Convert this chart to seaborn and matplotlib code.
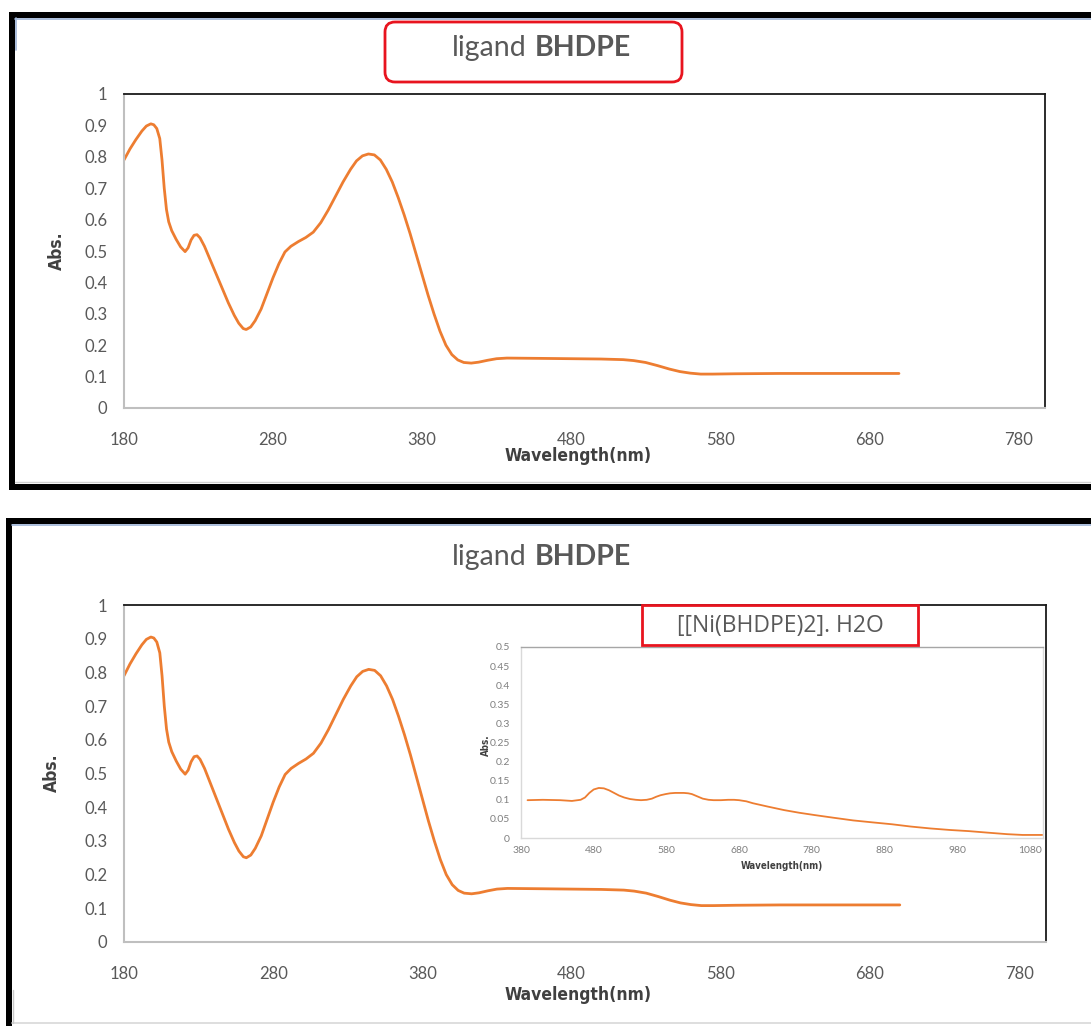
import matplotlib
matplotlib.use("Agg")
import matplotlib.pyplot as plt
import seaborn as sns
import pandas as pd
from matplotlib.patches import Rectangle, FancyBboxPatch
from matplotlib.lines import Line2D

# ---------------- data ----------------
wavelength = [180, 184, 188, 192, 195, 198, 200, 202, 204, 205.5, 207, 208.5, 210, 212, 215,
              218, 221, 223, 225, 227, 229, 231, 234, 238, 242, 246, 250, 254, 257, 260,
              262, 265, 268, 272, 276, 280, 284, 288, 292, 297, 302, 307, 312, 317, 322,
              327, 332, 336, 340, 344, 348, 352, 356, 360, 364, 368, 372, 376, 380, 384,
              388, 392, 396, 400, 404, 408, 413, 418, 424, 430, 437, 460, 480, 500, 515,
              522, 530, 538, 546, 553, 560, 567, 575, 590, 620, 660, 700]
absorbance = [0.79, 0.825, 0.855, 0.882, 0.898, 0.905, 0.902, 0.89, 0.858, 0.79, 0.70, 0.632,
              0.593, 0.565, 0.537, 0.513, 0.498, 0.51, 0.535, 0.55, 0.552, 0.542, 0.515, 0.47,
              0.425, 0.38, 0.335, 0.295, 0.27, 0.253, 0.25, 0.258, 0.278, 0.315, 0.365, 0.415,
              0.46, 0.497, 0.515, 0.53, 0.543, 0.56, 0.59, 0.63, 0.675, 0.72, 0.76, 0.787,
              0.803, 0.809, 0.806, 0.79, 0.76, 0.72, 0.67, 0.615, 0.555, 0.49, 0.425, 0.36,
              0.30, 0.245, 0.20, 0.17, 0.153, 0.145, 0.143, 0.146, 0.152, 0.157, 0.159, 0.158,
              0.157, 0.156, 0.154, 0.151, 0.145, 0.135, 0.124, 0.116, 0.111, 0.108, 0.108,
              0.109, 0.11, 0.11, 0.11]

inset_wavelength = [389, 410, 434, 450, 462, 468, 474, 480, 487, 494, 501, 508, 515, 522,
                    530, 538, 545, 553, 560, 566, 572, 579, 585, 592, 598, 604, 610, 615,
                    620, 625, 630, 638, 645, 655, 665, 673, 680, 690, 699, 720, 742, 763,
                    784, 810, 837, 863, 890, 916, 943, 970, 996, 1022, 1049, 1070, 1097]
inset_absorbance = [0.099, 0.1, 0.099, 0.097, 0.1, 0.106, 0.118, 0.127, 0.131, 0.13, 0.125,
                    0.118, 0.111, 0.106, 0.102, 0.1, 0.099, 0.1, 0.103, 0.108, 0.112, 0.115,
                    0.117, 0.118, 0.118, 0.118, 0.117, 0.115, 0.111, 0.107, 0.103, 0.1, 0.099,
                    0.099, 0.1, 0.1, 0.099, 0.096, 0.091, 0.082, 0.073, 0.066, 0.06, 0.053,
                    0.046, 0.041, 0.036, 0.03, 0.025, 0.021, 0.018, 0.014, 0.01, 0.008, 0.008]

main_xticks = [180, 280, 380, 480, 580, 680, 780]
main_yticks = [0, 0.1, 0.2, 0.3, 0.4, 0.5, 0.6, 0.7, 0.8, 0.9, 1.0]
main_ytick_labels = ["0", "0.1", "0.2", "0.3", "0.4", "0.5", "0.6", "0.7", "0.8", "0.9", "1"]
inset_xticks = [380, 480, 580, 680, 780, 880, 980, 1080]
inset_yticks = [0, 0.05, 0.1, 0.15, 0.2, 0.25, 0.3, 0.35, 0.4, 0.45, 0.5]
inset_ytick_labels = ["0", "0.05", "0.1", "0.15", "0.2", "0.25", "0.3", "0.35", "0.4", "0.45", "0.5"]

title_plain = "ligand"
title_bold = "BHDPE"
inset_title = "[[Ni(BHDPE)2]. H2O"
xlabel = "Wavelength(nm)"
ylabel = "Abs."

# ---------------- style ----------------
sns.set_theme(style="white")
plt.rcParams["font.family"] = ["Lato", "DejaVu Sans"]
NARROW = dict(family=["DejaVu Sans"], fontstretch="condensed", fontweight="bold")
ORANGE = "#ED7D31"
TICK_COL = "#595959"
SPINE_GRAY = "#BFBFBF"
RED = "#E8141E"

W, H = 1091, 1026
fig = plt.figure(figsize=(W / 100, H / 100), dpi=100)
fig.patch.set_facecolor("white")


def rect(x0, y0, x1, y1):
    return [x0 / W, 1 - y1 / H, (x1 - x0) / W, (y1 - y0) / H]


df_main = pd.DataFrame({"wl": wavelength, "abs": absorbance})
df_inset = pd.DataFrame({"wl": inset_wavelength, "abs": inset_absorbance})


def style_main(ax):
    sns.lineplot(data=df_main, x="wl", y="abs", ax=ax, color=ORANGE, linewidth=2.0)
    ax.set_xlim(180, 798)
    ax.set_ylim(0, 1)
    ax.set_xticks(main_xticks)
    ax.set_xticklabels([str(t) for t in main_xticks])
    ax.set_yticks(main_yticks)
    ax.set_yticklabels(main_ytick_labels)
    ax.tick_params(axis="both", length=0, labelsize=12, labelcolor=TICK_COL)
    ax.tick_params(axis="y", pad=12)
    ax.tick_params(axis="x", pad=17)
    ax.set_xlabel("")
    ax.set_ylabel("")
    for s in ["left", "bottom"]:
        ax.spines[s].set_color(SPINE_GRAY)
        ax.spines[s].set_linewidth(1.5)
    for s in ["top", "right"]:
        ax.spines[s].set_color("#1a1a1a")
        ax.spines[s].set_linewidth(1.3)
    ax.grid(False)


def main_title(y):
    fig.text(527 / W, 1 - y / H, title_plain, ha="right", va="center", fontsize=20.5,
             color="#595959")
    fig.text(535 / W, 1 - y / H, title_bold, ha="left", va="center", fontsize=20.5,
             color="#595959", fontweight="bold")


# ---------------- top panel ----------------
ax1 = fig.add_axes(rect(124, 94, 1045, 408))
style_main(ax1)
main_title(48)
fig.text(578 / W, 1 - 456 / H, xlabel, ha="center", va="center", fontsize=12.5,
         color="#404040", **NARROW)
fig.text(57 / W, 1 - 251 / H, ylabel, ha="center", va="center", fontsize=12.5,
         color="#404040", rotation=90, **NARROW)

# ---------------- bottom panel ----------------
ax2 = fig.add_axes(rect(124, 605, 1046, 942))
style_main(ax2)
main_title(557)
fig.text(578 / W, 1 - 995 / H, xlabel, ha="center", va="center", fontsize=12.5,
         color="#404040", **NARROW)
fig.text(52 / W, 1 - 773 / H, ylabel, ha="center", va="center", fontsize=12.5,
         color="#404040", rotation=90, **NARROW)

# ---------------- inset ----------------
ax3 = fig.add_axes(rect(521, 647, 1043, 838))
sns.lineplot(data=df_inset, x="wl", y="abs", ax=ax3, color=ORANGE, linewidth=1.3)
ax3.set_xlim(380, 1098)
ax3.set_ylim(0, 0.5)
ax3.set_xticks(inset_xticks)
ax3.set_xticklabels([str(t) for t in inset_xticks])
ax3.set_yticks(inset_yticks)
ax3.set_yticklabels(inset_ytick_labels)
ax3.tick_params(axis="both", length=0, labelsize=7.5, labelcolor="#7f7f7f")
ax3.tick_params(axis="y", pad=8)
ax3.tick_params(axis="x", pad=6)
ax3.set_xlabel("")
ax3.set_ylabel("")
for s in ["left", "bottom", "right"]:
    ax3.spines[s].set_color("#D9D9D9")
    ax3.spines[s].set_linewidth(1.0)
ax3.spines["top"].set_color("#A6A6A6")
ax3.spines["top"].set_linewidth(1.0)
fig.text(782 / W, 1 - 866 / H, xlabel, ha="center", va="center", fontsize=7,
         color="#404040", **NARROW)
fig.text(486 / W, 1 - 745 / H, ylabel, ha="center", va="center", fontsize=7,
         color="#404040", rotation=90, **NARROW)
fig.text(780 / W, 1 - 626 / H, inset_title, ha="center", va="center", fontsize=16.5,
         color="#595959", family=["Open Sans", "DejaVu Sans"])

# ---------------- overlay decorations (frames / boxes) ----------------
ov = fig.add_axes([0, 0, 1, 1], zorder=20)
ov.set_xlim(0, W)
ov.set_ylim(H, 0)
ov.axis("off")
ov.patch.set_alpha(0)

# top screenshot frame
ov.add_patch(Rectangle((9, 12), W - 9, 5.5, color="black", lw=0))
ov.add_patch(Rectangle((9, 12), 6, 478, color="black", lw=0))
ov.add_patch(Rectangle((9, 484), W - 9, 6, color="black", lw=0))
ov.add_line(Line2D([15, W], [18.5, 18.5], color="#9DB3D6", lw=1.2))
ov.add_line(Line2D([16, 16], [18, 50], color="#9DB3D6", lw=1.2))
ov.add_line(Line2D([15, W], [482, 482], color="#D0D0D0", lw=1.0))
# bottom screenshot frame
ov.add_patch(Rectangle((6, 518), W - 6, 5.5, color="black", lw=0))
ov.add_patch(Rectangle((6, 518), 6, H - 518, color="black", lw=0))
ov.add_line(Line2D([12, W], [524.5, 524.5], color="#9DB3D6", lw=1.2))
ov.add_line(Line2D([12, W], [1023, 1023], color="#D8D8D8", lw=1.2))
ov.add_line(Line2D([12.5, 12.5], [990, 1023], color="#C8C8C8", lw=1.0))

# top title rounded red box
ov.add_patch(FancyBboxPatch((391, 28), 285, 48, boxstyle="round,pad=6,rounding_size=10",
                            fill=False, edgecolor=RED, lw=2.0))
# inset title red box
ov.add_patch(Rectangle((642, 605), 276, 40, fill=False, edgecolor=RED, lw=2.0))

fig.savefig("out.png", dpi=100, facecolor="white")
